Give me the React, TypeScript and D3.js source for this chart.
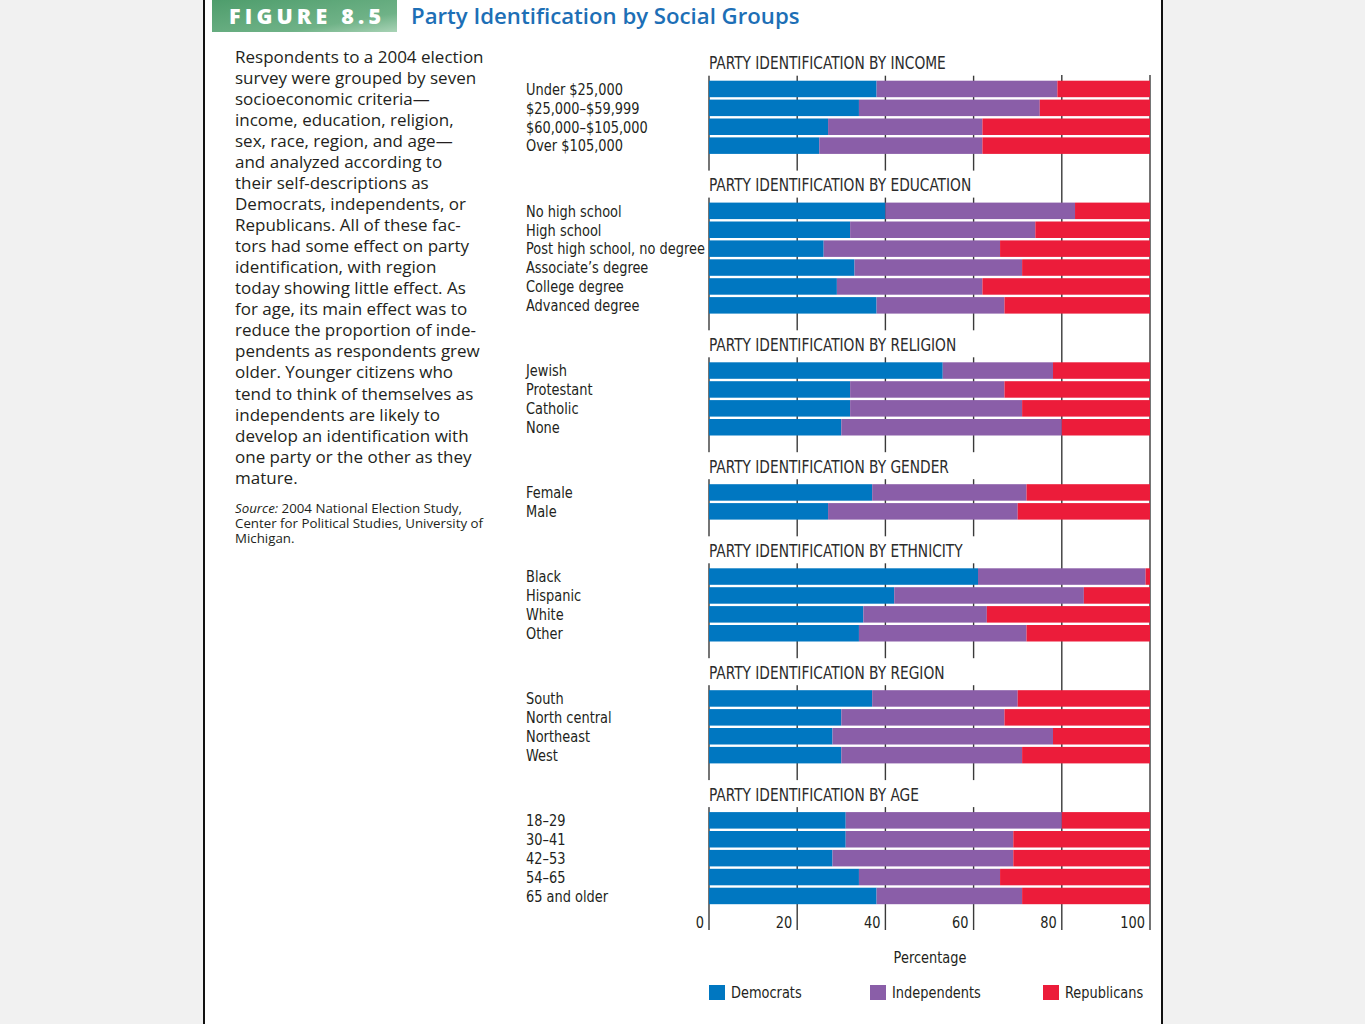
import * as d3 from "d3"

// ---- data (percentages) ----
const incomeCats = ["Under $25,000", "$25,000–$59,999", "$60,000–$105,000", "Over $105,000"]
const incomeDem = [38, 34, 27, 25]
const incomeInd = [41, 41, 35, 37]
const incomeRep = [21, 25, 38, 38]

const educationCats = ["No high school", "High school", "Post high school, no degree", "Associate’s degree", "College degree", "Advanced degree"]
const educationDem = [40, 32, 26, 33, 29, 38]
const educationInd = [43, 42, 40, 38, 33, 29]
const educationRep = [17, 26, 34, 29, 38, 33]

const religionCats = ["Jewish", "Protestant", "Catholic", "None"]
const religionDem = [53, 32, 32, 30]
const religionInd = [25, 35, 39, 50]
const religionRep = [22, 33, 29, 20]

const genderCats = ["Female", "Male"]
const genderDem = [37, 27]
const genderInd = [35, 43]
const genderRep = [28, 30]

const ethnicityCats = ["Black", "Hispanic", "White", "Other"]
const ethnicityDem = [61, 42, 35, 34]
const ethnicityInd = [38, 43, 28, 38]
const ethnicityRep = [1, 15, 37, 28]

const regionCats = ["South", "North central", "Northeast", "West"]
const regionDem = [37, 30, 28, 30]
const regionInd = [33, 37, 50, 41]
const regionRep = [30, 33, 22, 29]

const ageCats = ["18–29", "30–41", "42–53", "54–65", "65 and older"]
const ageDem = [31, 31, 28, 34, 38]
const ageInd = [49, 38, 41, 32, 33]
const ageRep = [20, 31, 31, 34, 29]

const seriesNames = ["Democrats", "Independents", "Republicans"]
const tickValues = [0, 20, 40, 60, 80, 100]

const introLines = [
  "Respondents to a 2004 election",
  "survey were grouped by seven",
  "socioeconomic criteria—",
  "income, education, religion,",
  "sex, race, region, and age—",
  "and analyzed according to",
  "their self-descriptions as",
  "Democrats, independents, or",
  "Republicans. All of these fac-",
  "tors had some effect on party",
  "identification, with region",
  "today showing little effect. As",
  "for age, its main effect was to",
  "reduce the proportion of inde-",
  "pendents as respondents grew",
  "older. Younger citizens who",
  "tend to think of themselves as",
  "independents are likely to",
  "develop an identification with",
  "one party or the other as they",
  "mature.",
]

const groups = [
  { title: "PARTY IDENTIFICATION BY INCOME", cats: incomeCats, dem: incomeDem, ind: incomeInd, rep: incomeRep },
  { title: "PARTY IDENTIFICATION BY EDUCATION", cats: educationCats, dem: educationDem, ind: educationInd, rep: educationRep },
  { title: "PARTY IDENTIFICATION BY RELIGION", cats: religionCats, dem: religionDem, ind: religionInd, rep: religionRep },
  { title: "PARTY IDENTIFICATION BY GENDER", cats: genderCats, dem: genderDem, ind: genderInd, rep: genderRep },
  { title: "PARTY IDENTIFICATION BY ETHNICITY", cats: ethnicityCats, dem: ethnicityDem, ind: ethnicityInd, rep: ethnicityRep },
  { title: "PARTY IDENTIFICATION BY REGION", cats: regionCats, dem: regionDem, ind: regionInd, rep: regionRep },
  { title: "PARTY IDENTIFICATION BY AGE", cats: ageCats, dem: ageDem, ind: ageInd, rep: ageRep },
]

const colors = ["#0077c1", "#8a5ea8", "#ec1c3a"]
const narrow = "'DejaVu Sans Condensed', 'Liberation Sans', sans-serif"
const humanist = "'Open Sans', 'Noto Sans', sans-serif"

// layout
const W = 1365
const H = 1024
const rowStep = 18.9
const groupGap = 46.3
const barH = 16.5
const firstTop = 80.7
const squeeze = 0.9 // condensed look

// condensed text: squeeze the glyphs horizontally around the anchor point
function NText(props: { x: number; y: number; size: number; anchor?: string; fill?: string; dy?: string; children: any }) {
  const { x, y, size, anchor = "start", fill = "#231f20", dy, children } = props
  return (
    <text
      transform={`translate(${x},${y}) scale(${squeeze},1)`}
      textAnchor={anchor}
      dy={dy}
      fontFamily={narrow}
      fontSize={size}
      fill={fill}
    >
      {children}
    </text>
  )
}

export default function App() {
  const x = d3.scaleLinear().domain([0, 100]).range([709, 1150])
  const stack = d3.stack<{ dem: number; ind: number; rep: number }>().keys(["dem", "ind", "rep"])

  let rowsBefore = 0
  const laidOut = groups.map((g, gi) => {
    const top = firstTop + rowsBefore * rowStep + gi * groupGap
    rowsBefore += g.cats.length
    const rows = g.cats.map((_, i) => ({ dem: g.dem[i], ind: g.ind[i], rep: g.rep[i] }))
    return { ...g, top, layers: stack(rows) }
  })

  return (
    <div style={{ position: "absolute", left: 0, top: 0 }}>
      <svg width={W} height={H} style={{ display: "block" }}>
        <defs>
          <linearGradient id="hdr" x1="0" y1="0" x2="1" y2="1">
            <stop offset="0" stopColor="#4e9d6c" />
            <stop offset="0.7" stopColor="#6fb287" />
            <stop offset="1" stopColor="#a9d3b6" />
          </linearGradient>
        </defs>
        <rect width={W} height={H} fill="#f1f1f1" />
        <rect x={205} y={0} width={956} height={H} fill="#fff" />
        <line x1={204} x2={204} y1={0} y2={H} stroke="#111" strokeWidth={2} />
        <line x1={1162} x2={1162} y1={0} y2={H} stroke="#111" strokeWidth={2} />

        {/* header */}
        <rect x={212} y={0} width={185} height={32} fill="url(#hdr)" />
        <text x={229} y={24} fill="#fff" fontFamily={humanist} fontWeight={800} fontSize={21.5} textLength={152} lengthAdjust="spacing">
          FIGURE 8.5
        </text>
        <text x={411} y={24} fill="#1d6fb6" fontFamily={humanist} fontWeight={600} fontSize={22.2}>
          Party Identification by Social Groups
        </text>

        {/* intro paragraph */}
        <text fontFamily={humanist} fontSize={17} fill="#231f20" x={235} y={62.7}>
          {introLines.map((l, i) => (
            <tspan key={i} x={235} dy={i === 0 ? 0 : 21.05}>
              {l}
            </tspan>
          ))}
        </text>
        <text fontFamily={humanist} fontSize={13.3} fill="#231f20" x={235} y={513}>
          <tspan fontStyle="italic">Source:</tspan>
          <tspan> 2004 National Election Study,</tspan>
          <tspan x={235} dy={15}>Center for Political Studies, University of</tspan>
          <tspan x={235} dy={15}>Michigan.</tspan>
        </text>

        {/* gridlines */}
        {tickValues.map((t) => (
          <line key={t} x1={x(t)} x2={x(t)} y1={75} y2={930} stroke="#3a3a3a" strokeWidth={1.4} />
        ))}

        {laidOut.map((g) => (
          <g key={g.title}>
            <rect x={706} y={g.top - 32} width={270} height={27} fill="#fff" />
            <NText x={709} y={g.top - 11.5} size={17} fill="#2b2b2b">
              {g.title}
            </NText>
            {g.layers.map((layer, li) =>
              layer.map((d, i) => (
                <rect
                  key={`${li}-${i}`}
                  x={x(d[0])}
                  y={g.top + i * rowStep}
                  width={x(d[1]) - x(d[0])}
                  height={barH}
                  fill={colors[li]}
                />
              ))
            )}
            {g.cats.map((c, i) => (
              <NText key={c} x={526} y={g.top + i * rowStep + barH / 2} dy="0.36em" size={16}>
                {c}
              </NText>
            ))}
          </g>
        ))}

        {/* axis labels */}
        {tickValues.map((t) => (
          <NText key={t} x={x(t) - 5} y={928} anchor="end" size={16}>
            {t}
          </NText>
        ))}
        <NText x={930} y={963} anchor="middle" size={16}>
          Percentage
        </NText>

        {/* legend */}
        {seriesNames.map((s, i) => {
          const lx = [709, 870, 1043][i]
          return (
            <g key={s}>
              <rect x={lx} y={985} width={16} height={15} fill={colors[i]} />
              <NText x={lx + 22} y={998} size={16}>
                {s}
              </NText>
            </g>
          )
        })}
      </svg>
    </div>
  )
}
